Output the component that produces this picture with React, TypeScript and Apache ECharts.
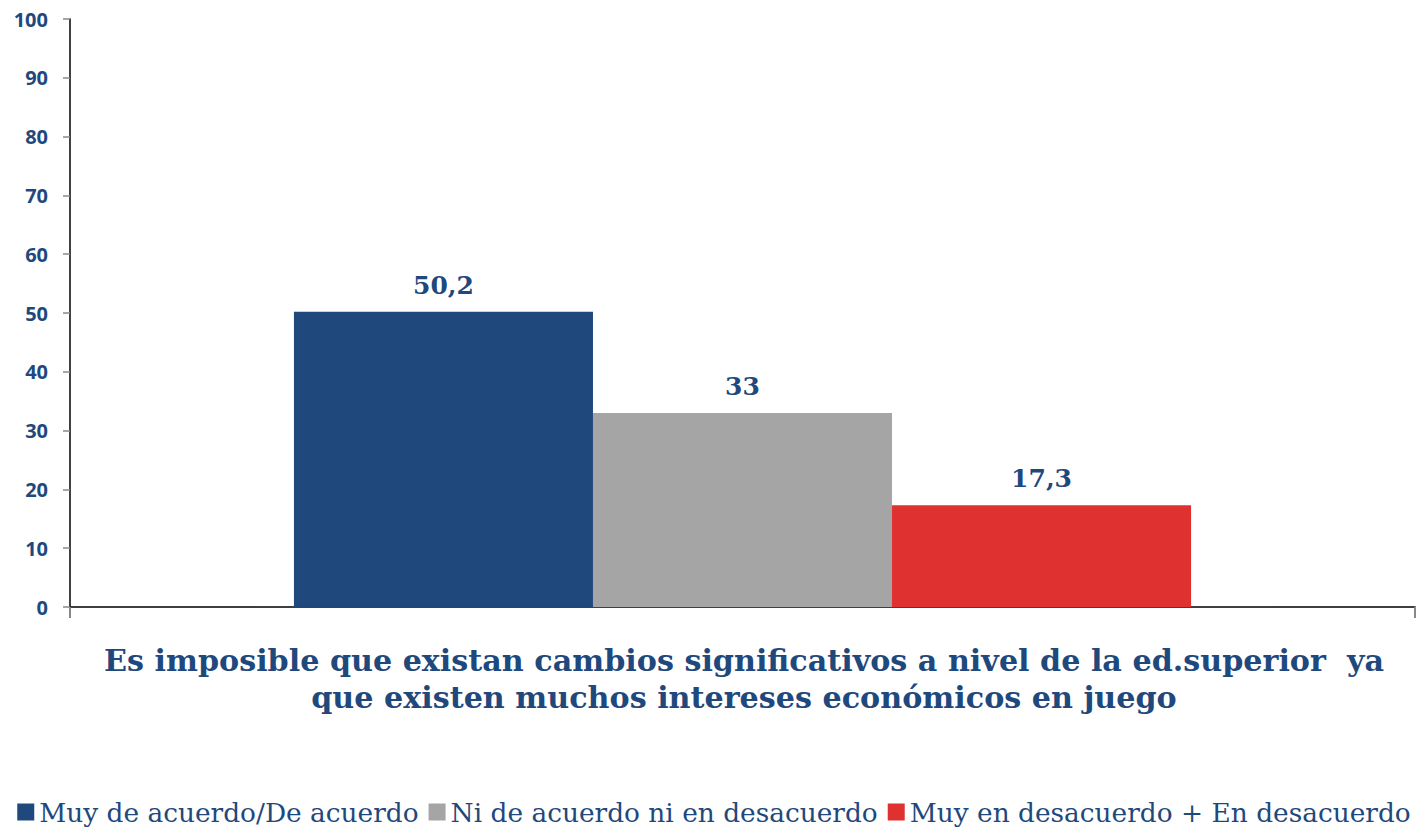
import React, { useEffect, useRef } from "react";
import * as echarts from "echarts";

const categories = [""];
const seriesNames = [
  "Muy de acuerdo/De acuerdo",
  "Ni de acuerdo ni en desacuerdo",
  "Muy en desacuerdo + En desacuerdo",
];
const seriesValues = [50.2, 33, 17.3];
const seriesColors = ["#1F497D", "#A5A5A5", "#E03131"];
const yTicks = { min: 0, max: 100, interval: 10 };
const titleLines = [
  "Es imposible que existan cambios significativos a nivel de la ed.superior  ya",
  "que existen muchos intereses económicos en juego",
];

export default function App() {
  const ref = useRef<HTMLDivElement>(null);
  useEffect(() => {
    if (!ref.current) return;
    const chart = echarts.init(ref.current, null, { renderer: "svg" });
    const serif = "'DejaVu Serif', 'Liberation Serif', serif";
    chart.setOption({
      animation: false,
      backgroundColor: "#ffffff",
      grid: { left: 70, right: 13, top: 19, bottom: 226, containLabel: false },
      legend: {
        bottom: 3,
        left: "center",
        itemWidth: 17,
        itemHeight: 17,
        itemGap: 10,
        icon: "rect",
        textStyle: { fontFamily: serif, fontSize: 26.4, color: "#1F497D" },
        data: seriesNames,
      },
      xAxis: {
        type: "category",
        data: categories,
        axisLine: { lineStyle: { color: "#000000", width: 1.5 } },
        axisTick: { show: true, length: 11, lineStyle: { color: "#888888", width: 2 } },
        axisLabel: { show: false },
      },
      yAxis: {
        type: "value",
        min: yTicks.min,
        max: yTicks.max,
        interval: yTicks.interval,
        splitLine: { show: false },
        axisLine: { show: true, lineStyle: { color: "#000000", width: 1.5 } },
        axisTick: { show: true, length: 7, lineStyle: { color: "#888888", width: 1.5 } },
        axisLabel: {
          margin: 22,
          fontFamily: "'Open Sans', Lato, sans-serif",
          fontWeight: "bold",
          fontSize: 20,
          color: "#1F497D",
        },
      },
      series: seriesNames.map((name, i) => ({
        name,
        type: "bar",
        data: [seriesValues[i]],
        barGap: "0%",
        barCategoryGap: "33.3%",
        itemStyle: { color: seriesColors[i] },
        label: {
          show: true,
          position: "top",
          distance: 14,
          fontFamily: serif,
          fontWeight: "bold",
          fontSize: 25,
          color: "#1F497D",
          formatter: (p: any) => String(p.value).replace(".", ","),
        },
      })),
      graphic: titleLines.map((t, i) => ({
        type: "text",
        x: 744,
        y: 660 + i * 37,
        style: {
          text: t,
          fontFamily: serif,
          fontWeight: "bold",
          fontSize: 30.2,
          fill: "#1F497D",
          textAlign: "center",
          textVerticalAlign: "middle",
        },
      })),
    });
    return () => chart.dispose();
  }, []);
  return (
    <div
      ref={ref}
      style={{ position: "fixed", left: 0, top: 0, width: 1428, height: 833 }}
    />
  );
}
